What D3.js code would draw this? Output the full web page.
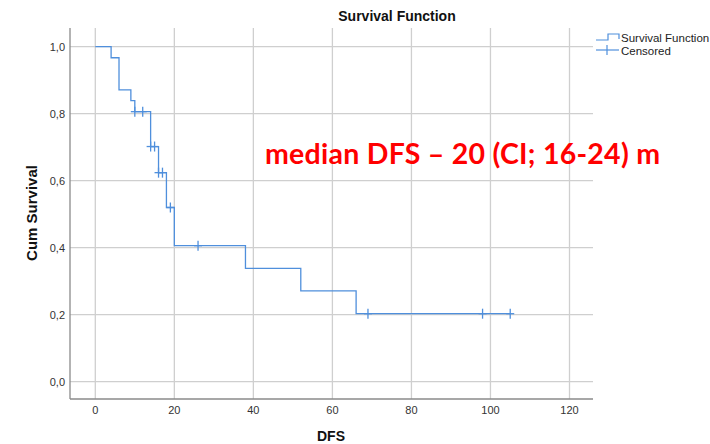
<!DOCTYPE html>
<html><head><meta charset="utf-8">
<script src="https://cdn.jsdelivr.net/npm/d3@7"></script>
<style>body{margin:0;background:#fff}svg{display:block}</style>
</head><body>
<svg id="c" width="710" height="444"></svg>
<script>
// Step function: event times and survival after each step
const stepTimes = [0, 4, 6, 9, 10, 14, 16, 18, 20, 38, 52, 66];
const survival  = [1.0, 0.967, 0.871, 0.839, 0.806, 0.702, 0.624, 0.520, 0.406, 0.338, 0.271, 0.203];
const endTime = 105;
const censorTimes = [10, 12, 14, 15, 16, 17, 19, 26, 69, 98, 105];
const xTicks = [0, 20, 40, 60, 80, 100, 120];
const yTicks = [0, 0.2, 0.4, 0.6, 0.8, 1.0];
const titleText = "Survival Function";
const xLabel = "DFS", yLabel = "Cum Survival";
const legendLabels = ["Survival Function", "Censored"];
const annotation = "median DFS \u2013 20 (CI; 16-24) m";

const svg = d3.select("#c");
const L = 70, R = 593, T = 28, B = 399;
const x = d3.scaleLinear().domain([0, 120]).range([95.3, 569.5]);
const y = d3.scaleLinear().domain([0, 1]).range([381.7, 46.7]);
const blue = "#4f8fdc";
const fmt = d => d3.format(".1f")(d).replace(".", ",");

// grid
const g = svg.append("g");
g.selectAll(".vg").data(xTicks).join("line")
  .attr("x1", d => x(d)).attr("x2", d => x(d)).attr("y1", T).attr("y2", B)
  .attr("stroke", "#cfcfcf").attr("stroke-width", 1.3);
g.selectAll(".hg").data(yTicks).join("line")
  .attr("x1", L).attr("x2", R).attr("y1", d => y(d)).attr("y2", d => y(d))
  .attr("stroke", "#cfcfcf").attr("stroke-width", 1.3);

// axes lines
svg.append("line").attr("x1", L).attr("x2", L).attr("y1", T).attr("y2", B).attr("stroke", "#8a8a8a").attr("stroke-width", 1.3);
svg.append("line").attr("x1", L).attr("x2", R).attr("y1", B).attr("y2", B).attr("stroke", "#8a8a8a").attr("stroke-width", 1.3);

// tick labels
svg.selectAll(".yt").data(yTicks).join("text")
  .attr("x", 65).attr("y", d => y(d) + 4).attr("text-anchor", "end")
  .attr("font-family", "Liberation Sans, Arial, sans-serif").attr("font-size", 11).attr("fill", "#333")
  .text(fmt);
svg.selectAll(".xt").data(xTicks).join("text")
  .attr("x", d => x(d)).attr("y", 414).attr("text-anchor", "middle")
  .attr("font-family", "Liberation Sans, Arial, sans-serif").attr("font-size", 11).attr("fill", "#333")
  .text(d => d);

// step line
const pts = [];
stepTimes.forEach((t, i) => {
  if (i > 0) pts.push([t, survival[i - 1]]);
  pts.push([t, survival[i]]);
});
pts.push([endTime, survival[survival.length - 1]]);
svg.append("path").datum(pts)
  .attr("d", d3.line().x(d => x(d[0])).y(d => y(d[1])))
  .attr("fill", "none").attr("stroke", blue).attr("stroke-width", 1.3);

// censor marks
const survAt = t => { let s = survival[0]; stepTimes.forEach((st, i) => { if (st <= t) s = survival[i]; }); return s; };
const cg = svg.append("g").attr("stroke", blue).attr("stroke-width", 1.3);
censorTimes.forEach(t => {
  const cx = x(t), cy = y(survAt(t));
  cg.append("line").attr("x1", cx).attr("x2", cx).attr("y1", cy - 5).attr("y2", cy + 5);
  cg.append("line").attr("x1", cx - 4).attr("x2", cx + 4).attr("y1", cy).attr("y2", cy);
});

// title & axis labels
svg.append("text").attr("x", 397).attr("y", 21).attr("text-anchor", "middle")
  .attr("font-family", "Liberation Sans, Arial, sans-serif").attr("font-size", 14).attr("font-weight", "bold").attr("fill", "#111")
  .text(titleText);
svg.append("text").attr("x", 331).attr("y", 441).attr("text-anchor", "middle")
  .attr("font-family", "Liberation Sans, Arial, sans-serif").attr("font-size", 14).attr("font-weight", "bold").attr("fill", "#111")
  .text(xLabel);
svg.append("text").attr("transform", "translate(37,213) rotate(-90)").attr("text-anchor", "middle")
  .attr("font-family", "Liberation Sans, Arial, sans-serif").attr("font-size", 15).attr("font-weight", "bold").attr("fill", "#111")
  .text(yLabel);

// legend
const lg = svg.append("g").attr("stroke", blue).attr("stroke-width", 1.2).attr("fill", "none");
lg.append("path").attr("d", "M596,40 H608 V34 H619 V39");
lg.append("line").attr("x1", 596).attr("x2", 619).attr("y1", 50).attr("y2", 50);
lg.append("line").attr("x1", 607).attr("x2", 607).attr("y1", 45).attr("y2", 55);
svg.selectAll(".lt").data(legendLabels).join("text")
  .attr("x", 621).attr("y", (d, i) => 42 + i * 13)
  .attr("font-family", "Liberation Sans, Arial, sans-serif").attr("font-size", 11.5).attr("fill", "#222")
  .text(d => d);

// annotation
svg.append("text").attr("x", 265).attr("y", 164)
  .attr("font-family", "Lato, sans-serif").attr("font-size", 28.5).attr("font-weight", "bold").attr("fill", "#ff0000")
  .attr("textLength", 395).attr("lengthAdjust", "spacing")
  .text(annotation);
</script>
</body></html>
